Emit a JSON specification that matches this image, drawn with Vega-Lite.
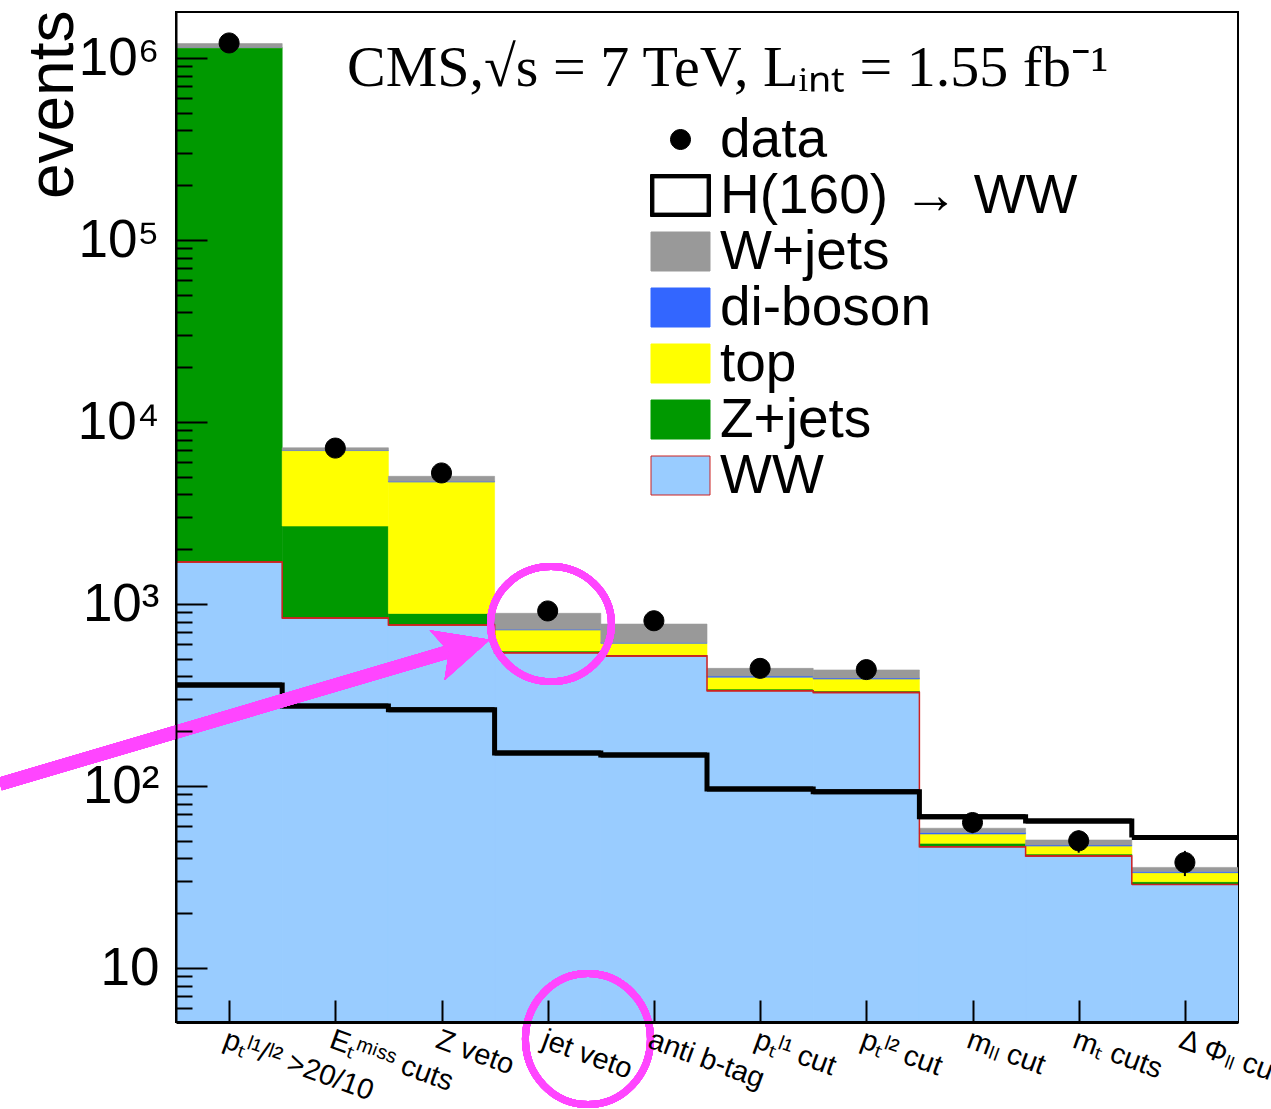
{
  "$schema": "https://vega.github.io/schema/vega-lite/v6.json",
  "width": 1062,
  "height": 1010,
  "autosize": {"type": "none"},
  "padding": {"left": 176, "top": 12, "right": 33, "bottom": 87},
  "background": "white",
  "title": {
    "text": "CMS,√s = 7 TeV, Lᵢₙₜ = 1.55 fb⁻¹",
    "orient": "top",
    "anchor": "start",
    "frame": "group",
    "offset": -134,
    "dx": 171,
    "baseline": "alphabetic",
    "font": "Liberation Serif",
    "fontSize": 58,
    "fontWeight": "normal",
    "color": "black"
  },
  "datasets": {
    "bins": [
      {"lo": 0, "hi": 1, "mid": 0.5, "ww": 1702, "zj": 1140000, "tt": 1141000, "vv": 1141500, "wj": 1200000, "data": 1210000, "dlo": 1208900, "dhi": 1211100, "h": 359, "series": "data"},
      {"lo": 1, "hi": 2, "mid": 1.5, "ww": 837, "zj": 2683, "tt": 6966, "vv": 6990, "wj": 7215, "data": 7190, "dlo": 7105, "dhi": 7275, "h": 275, "series": "data"},
      {"lo": 2, "hi": 3, "mid": 2.5, "ww": 767, "zj": 887, "tt": 4680, "vv": 4720, "wj": 5030, "data": 5250, "dlo": 5178, "dhi": 5322, "h": 262, "series": "data"},
      {"lo": 3, "hi": 4, "mid": 3.5, "ww": 540, "zj": 552, "tt": 720, "vv": 727, "wj": 889, "data": 916, "dlo": 886, "dhi": 946, "h": 152, "series": "data"},
      {"lo": 4, "hi": 5, "mid": 4.5, "ww": 518, "zj": 525, "tt": 608, "vv": 615, "wj": 776, "data": 809, "dlo": 781, "dhi": 837, "h": 148, "series": "data"},
      {"lo": 5, "hi": 6, "mid": 5.5, "ww": 334, "zj": 341, "tt": 396, "vv": 402, "wj": 443, "data": 443, "dlo": 422, "dhi": 464, "h": 96.3, "series": "data"},
      {"lo": 6, "hi": 7, "mid": 6.5, "ww": 326, "zj": 333, "tt": 387, "vv": 392, "wj": 434, "data": 436, "dlo": 415, "dhi": 457, "h": 93, "series": "data"},
      {"lo": 7, "hi": 8, "mid": 7.5, "ww": 46.4, "zj": 48.4, "tt": 54.5, "vv": 55.5, "wj": 58.6, "data": 63, "dlo": 55, "dhi": 71, "h": 67.8, "series": "data"},
      {"lo": 8, "hi": 9, "mid": 8.5, "ww": 41.2, "zj": 42.3, "tt": 46.8, "vv": 47.4, "wj": 50.5, "data": 50, "dlo": 43, "dhi": 57, "h": 64.2, "series": "data"},
      {"lo": 9, "hi": 10, "mid": 9.5, "ww": 28.8, "zj": 29.8, "tt": 33.4, "vv": 33.9, "wj": 35.7, "data": 38, "dlo": 32, "dhi": 44, "h": 52.2, "series": "data"}
    ]
  },
  "data": {"name": "bins"},
  "encoding": {
    "x": {
      "field": "lo",
      "type": "quantitative",
      "scale": {"domain": [0, 10], "nice": false, "zero": false},
      "axis": {
        "title": null,
        "zindex": 2,
        "values": [0.5, 1.5, 2.5, 3.5, 4.5, 5.5, 6.5, 7.5, 8.5, 9.5],
        "labelExpr": "['pₜˡ¹/ˡ² >20/10', 'Eₜᵐⁱˢˢ cuts', 'Z veto', 'jet veto', 'anti b-tag', 'pₜˡ¹ cut', 'pₜˡ² cut', 'mₗₗ cut', 'mₜ cuts', 'Δ Φₗₗ cut'][floor(datum.value)]",
        "grid": false,
        "domain": true,
        "domainColor": "black",
        "domainWidth": 3,
        "tickSize": -22,
        "tickWidth": 2,
        "tickColor": "black",
        "labelAngle": 20,
        "labelAlign": "left",
        "labelBaseline": "top",
        "labelPadding": 25,
        "labelOffset": 0,
        "labelFont": "Liberation Sans",
        "labelFontSize": 29,
        "labelColor": "black",
        "labelOverlap": false,
        "labelFlush": false,
        "labelBound": false,
        "labelLimit": 0
      }
    },
    "y": {
      "type": "quantitative",
      "scale": {"type": "log", "domain": [5.05, 1790000], "nice": false},
      "axis": {
        "title": "events",
        "zindex": 2,
        "titleFont": "Liberation Sans",
        "titleFontSize": 64,
        "titleFontWeight": "normal",
        "titleColor": "black",
        "titleAngle": -90,
        "titleAlign": "right",
        "titleBaseline": "alphabetic",
        "titleX": -104,
        "titleY": -2,
        "values": [6, 7, 8, 9, 10, 20, 30, 40, 50, 60, 70, 80, 90, 100, 200, 300, 400, 500, 600, 700, 800, 900, 1000, 2000, 3000, 4000, 5000, 6000, 7000, 8000, 9000, 10000, 20000, 30000, 40000, 50000, 60000, 70000, 80000, 90000, 100000, 200000, 300000, 400000, 500000, 600000, 700000, 800000, 900000, 1000000],
        "labelExpr": "datum.value == 10 ? '10' : datum.value == 100 ? '10²' : datum.value == 1000 ? '10³' : datum.value == 10000 ? '10⁴' : datum.value == 100000 ? '10⁵' : datum.value == 1000000 ? '10⁶' : ''",
        "grid": false,
        "domain": true,
        "domainColor": "black",
        "domainWidth": 2,
        "tickSize": {"condition": {"test": "abs(log(datum.value)/LN10 - round(log(datum.value)/LN10)) < 0.001", "value": -31}, "value": -16},
        "tickWidth": 2,
        "tickColor": "black",
        "labelPadding": 48,
        "labelFont": "Liberation Sans",
        "labelFontSize": 53,
        "labelColor": "black",
        "labelAlign": "right",
        "labelBaseline": "middle",
        "labelOverlap": false,
        "labelFlush": false,
        "labelBound": false,
        "labelLimit": 0
      }
    }
  },
  "layer": [
    {"mark": {"type": "bar", "color": "#99ccff", "stroke": "#99ccff", "strokeWidth": 1, "clip": true}, "encoding": {"x2": {"field": "hi"}, "y": {"field": "ww", "type": "quantitative"}, "y2": {"datum": 5.05}}},
    {"mark": {"type": "bar", "color": "#009900", "stroke": "#009900", "strokeWidth": 0.6, "clip": true}, "encoding": {"x2": {"field": "hi"}, "y": {"field": "zj", "type": "quantitative"}, "y2": {"field": "ww"}}},
    {"mark": {"type": "bar", "color": "#ffff00", "stroke": "#ffff00", "strokeWidth": 0.6, "clip": true}, "encoding": {"x2": {"field": "hi"}, "y": {"field": "tt", "type": "quantitative"}, "y2": {"field": "zj"}}},
    {"mark": {"type": "bar", "color": "#3366ff", "stroke": "#3366ff", "strokeWidth": 0.6, "clip": true}, "encoding": {"x2": {"field": "hi"}, "y": {"field": "vv", "type": "quantitative"}, "y2": {"field": "tt"}}},
    {"mark": {"type": "bar", "color": "#999999", "stroke": "#999999", "strokeWidth": 0.6, "clip": true}, "encoding": {"x2": {"field": "hi"}, "y": {"field": "wj", "type": "quantitative"}, "y2": {"field": "vv"}}},
    {"mark": {"type": "line", "interpolate": "step-after", "color": "#d02020", "strokeWidth": 1.5, "clip": true}, "encoding": {"y": {"field": "ww", "type": "quantitative"}}},
    {"mark": {"type": "rule", "color": "#d02020", "strokeWidth": 1.5, "clip": true}, "encoding": {"x2": {"field": "hi"}, "y": {"field": "ww", "type": "quantitative"}}},
    {"mark": {"type": "line", "interpolate": "step-after", "color": "black", "strokeWidth": 5, "clip": true}, "encoding": {"y": {"field": "h", "type": "quantitative"}}},
    {"mark": {"type": "rule", "color": "black", "strokeWidth": 5, "clip": true}, "encoding": {"x2": {"field": "hi"}, "y": {"field": "h", "type": "quantitative"}}},
    {"mark": {"type": "rule", "color": "black", "strokeWidth": 2}, "encoding": {"x": {"field": "mid", "type": "quantitative"}, "y": {"field": "dlo", "type": "quantitative"}, "y2": {"field": "dhi"}}},
    {
      "mark": {"type": "point", "filled": true, "opacity": 1, "size": 1600, "strokeWidth": 1},
      "encoding": {
        "x": {"field": "mid", "type": "quantitative"},
        "y": {"field": "data", "type": "quantitative"},
        "fill": {
          "field": "series", "type": "nominal",
          "scale": {"domain": ["data", "H(160) → WW", "W+jets", "di-boson", "top", "Z+jets", "WW"], "range": ["black", "black", "#999999", "#3366ff", "#ffff00", "#009900", "#99ccff"]},
          "legend": {"title": null}
        },
        "stroke": {
          "field": "series", "type": "nominal",
          "scale": {"domain": ["data", "H(160) → WW", "W+jets", "di-boson", "top", "Z+jets", "WW"], "range": ["black", "black", "#999999", "#3366ff", "#ffff00", "#009900", "#cc2222"]},
          "legend": {"title": null}
        },
        "shape": {
          "field": "series", "type": "nominal",
          "scale": {"domain": ["data", "H(160) → WW", "W+jets", "di-boson", "top", "Z+jets", "WW"], "range": [
            "M0.5,0A0.5,0.5,0,1,1,-0.5,0A0.5,0.5,0,1,1,0.5,0Z",
            "M-1.5,-1.05H1.5V1.05H-1.5ZM-1.33,-0.88V0.88H1.33V-0.88Z",
            "M-1.475,-0.975H1.475V0.975H-1.475Z",
            "M-1.475,-0.975H1.475V0.975H-1.475Z",
            "M-1.475,-0.975H1.475V0.975H-1.475Z",
            "M-1.475,-0.975H1.475V0.975H-1.475Z",
            "M-1.475,-0.975H1.475V0.975H-1.475Z"
          ]},
          "legend": {"title": null}
        }
      }
    },
    {
      "mark": {"type": "point", "filled": false, "opacity": 1, "stroke": "#ff45ff", "strokeWidth": 7, "size": 13924, "shape": "M-1.025,0A1.025,0.975,0,1,0,1.025,0A1.025,0.975,0,1,0,-1.025,0Z"},
      "encoding": {"x": {"datum": 3.531}, "y": {"datum": 776}}
    },
    {
      "mark": {"type": "point", "filled": false, "opacity": 1, "stroke": "#ff45ff", "strokeWidth": 7, "size": 16384, "shape": "M-0.977,0A0.977,1.023,0,1,0,0.977,0A0.977,1.023,0,1,0,-0.977,0Z"},
      "encoding": {"x": {"datum": 3.879}, "y": {"datum": 4.07}}
    },
    {
      "mark": {"type": "rule", "color": "#ff45ff", "strokeWidth": 13},
      "encoding": {"x": {"datum": -1.657}, "y": {"datum": 102.6}, "x2": {"datum": 2.70}, "y2": {"datum": 577}}
    },
    {
      "mark": {"type": "point", "filled": true, "opacity": 1, "color": "#ff45ff", "size": 3025, "angle": -16.4, "shape": "M1,0L-1,-0.95L-0.55,0L-1,0.95Z"},
      "encoding": {"x": {"datum": 2.707}, "y": {"datum": 577}}
    }
  ],
  "config": {
    "view": {"stroke": "black", "strokeWidth": 2},
    "legend": {
      "orient": "none",
      "legendX": 477,
      "legendY": 100,
      "padding": 0,
      "labelFont": "Liberation Sans",
      "labelFontSize": 55,
      "labelColor": "black",
      "labelLimit": 1000,
      "labelOffset": 12,
      "symbolSize": 1600,
      "symbolStrokeWidth": 1,
      "symbolOpacity": 1,
      "rowPadding": 0
    }
  }
}
